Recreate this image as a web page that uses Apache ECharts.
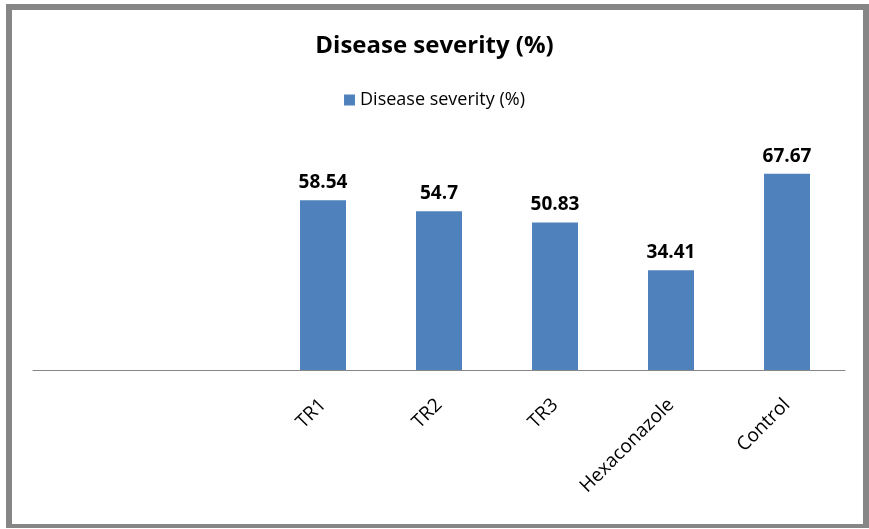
<!DOCTYPE html>
<html>
<head>
<meta charset="utf-8">
<script src="https://cdn.jsdelivr.net/npm/echarts@6/dist/echarts.min.js"></script>
<style>
html,body{margin:0;padding:0;background:#fff;width:869px;height:529px;overflow:hidden;}
#frame{position:absolute;left:6px;top:4px;width:863px;height:524px;box-sizing:border-box;border:6px solid #868686;border-bottom-width:4px;}
#chart{position:absolute;left:0;top:0;width:869px;height:529px;}
</style>
</head>
<body>
<div id="frame"></div>
<div id="chart"></div>
<script>
const categories = ['', '', 'TR1', 'TR2', 'TR3', 'Hexaconazole', 'Control'];
const severity = [null, null, 58.54, 54.7, 50.83, 34.41, 67.67];
const seriesName = 'Disease severity (%)';
const titleText = 'Disease severity (%)';

const chart = echarts.init(document.getElementById('chart'), null, {renderer: 'canvas'});
chart.setOption({
  animation: false,
  title: {
    text: titleText, left: 'center', top: 29,
    textStyle: {fontFamily: 'Open Sans', fontWeight: 'bold', fontSize: 24, color: '#000'}
  },
  legend: {
    data: [seriesName], top: 86, left: 'center',
    icon: 'rect', itemWidth: 11, itemHeight: 11, itemGap: 5,
    textStyle: {fontFamily: 'Open Sans', fontSize: 18, color: '#000'}
  },
  grid: {left: 33, right: 24, top: 138, bottom: 159, containLabel: false},
  xAxis: {
    type: 'category', data: categories,
    axisLine: {lineStyle: {color: '#868686', width: 1}},
    axisTick: {show: false},
    axisLabel: {rotate: 45, interval: 0, margin: 32, fontFamily: 'Open Sans', fontSize: 19, color: '#000'}
  },
  yAxis: {type: 'value', min: 0, max: 80, show: false, splitLine: {show: false}},
  series: [{
    name: seriesName, type: 'bar', data: severity, barWidth: 46,
    itemStyle: {color: '#4f81bd'},
    label: {show: true, position: 'top', distance: 8, fontFamily: 'Open Sans', fontWeight: 'bold', fontSize: 19, color: '#000'}
  }]
});
</script>
</body>
</html>
